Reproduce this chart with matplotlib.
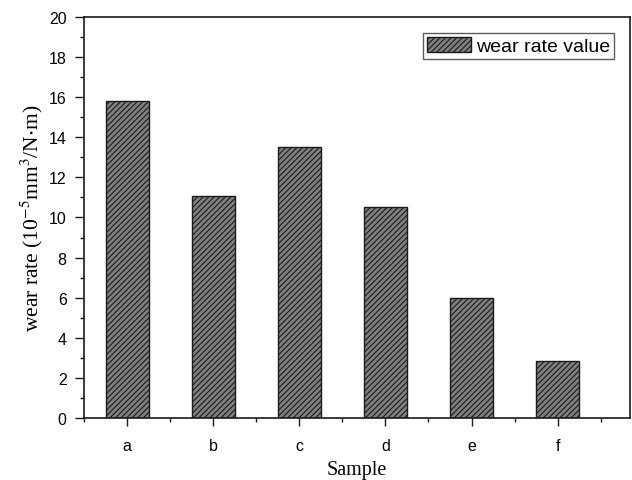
import numpy as np
import matplotlib
matplotlib.use('Agg')
import matplotlib.pyplot as plt
from matplotlib.patches import Patch
from matplotlib.ticker import MultipleLocator

samples = ['a', 'b', 'c', 'd', 'e', 'f']
wear_rate = [15.8, 11.05, 13.5, 10.5, 6.0, 2.85]

plt.rcParams['mathtext.fontset'] = 'stix'
plt.rcParams['hatch.linewidth'] = 0.8

fig = plt.figure(figsize=(6.32, 4.81), dpi=100)
ax = fig.add_axes([0.1329, 0.1289, 0.8639, 0.8337])

x = np.arange(len(samples))
ax.bar(x, wear_rate, width=0.5, color='#808080', edgecolor='#1a1a1a',
       linewidth=1.0, hatch='//////')

ax.set_xlim(-0.5, 5.84)
ax.set_ylim(0, 20)
ax.set_xticks(x)
ax.set_xticklabels(samples)
ax.xaxis.set_minor_locator(MultipleLocator(0.5))
ax.xaxis.set_minor_formatter(plt.NullFormatter())
ax.yaxis.set_major_locator(MultipleLocator(2))
ax.yaxis.set_minor_locator(MultipleLocator(1))

for s in ax.spines.values():
    s.set_linewidth(1.2)
    s.set_color('#1a1a1a')

ax.tick_params(which='both', direction='out', width=1.0, color='#1a1a1a',
               labelsize=11.5, labelfontfamily='Liberation Sans')
ax.tick_params(axis='y', which='major', length=6.5, pad=6)
ax.tick_params(axis='y', which='minor', length=3.2)
ax.tick_params(axis='x', which='major', length=5.5, pad=9)
ax.tick_params(axis='x', which='minor', length=3)

ax.set_xlabel('Sample', family='Liberation Serif', fontsize=14.5, labelpad=5)
ax.set_ylabel(r'wear rate (10$^{-5}$mm$^{3}$/N$\cdot$m)', family='Liberation Serif',
              fontsize=15.5, labelpad=3)

handle = Patch(facecolor='#808080', edgecolor='#1a1a1a', hatch='//////',
               linewidth=1.0, label='wear rate value')
leg = ax.legend(handles=[handle], loc='upper right', bbox_to_anchor=(0.982, 0.975),
                fancybox=False, shadow=False, frameon=True, borderpad=0.2,
                handlelength=2.3, handleheight=0.8, handletextpad=0.25,
                borderaxespad=0.3,
                prop={'family': 'Liberation Sans', 'size': 14})
leg.get_frame().set_edgecolor('#333333')
leg.get_frame().set_linewidth(1.0)

fig.savefig('out.png', dpi=100)
